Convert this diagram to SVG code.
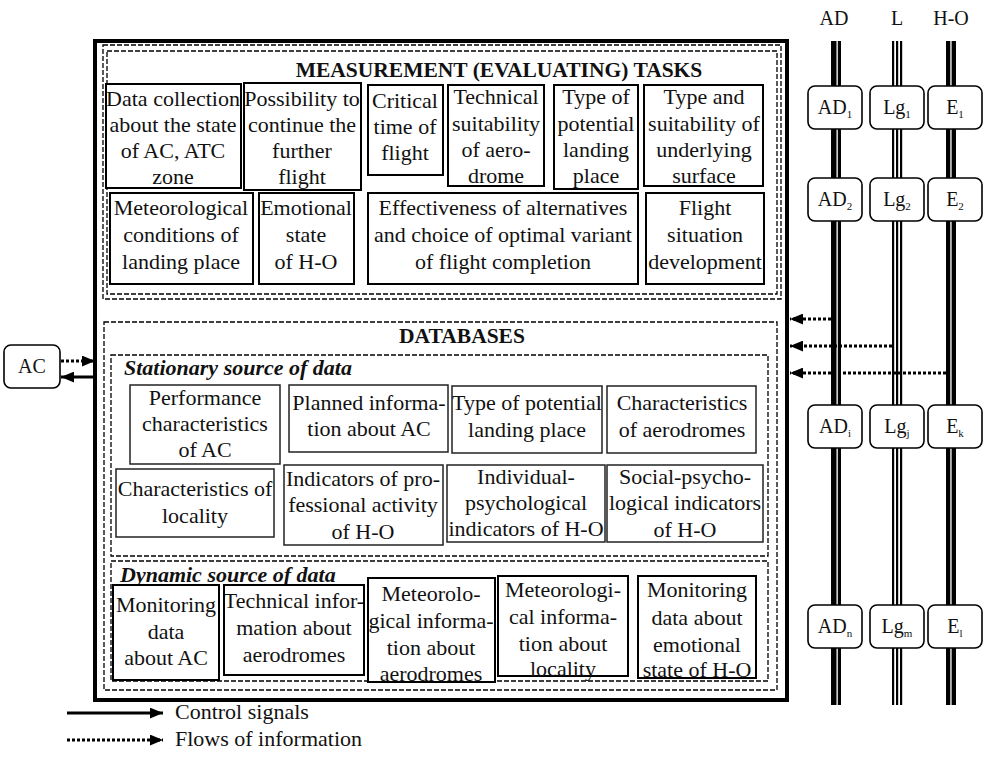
<svg xmlns="http://www.w3.org/2000/svg" width="988" height="757" viewBox="0 0 988 757">
<defs>
<style>
text{font-family:"Liberation Serif","Times New Roman",serif;fill:#111}
.t{font-size:22px;text-anchor:middle}
.h{font-size:21.5px;font-weight:bold;text-anchor:middle}
.bi{font-size:22px;font-weight:bold;font-style:italic}
.lab{font-size:20px;text-anchor:middle}
.sub{font-size:11px}
.box{fill:#fff;stroke:#000;stroke-width:2}
.sbox{fill:#fff;stroke:#222;stroke-width:1.5}
.dash{fill:none;stroke:#000;stroke-width:1.3;stroke-dasharray:5 2}
.bbox{fill:#fff;stroke:#000;stroke-width:1.6}
.solid{stroke:#000;stroke-width:3;fill:none}
.dot{stroke:#000;stroke-width:3;fill:none;stroke-dasharray:3 2}
</style>
<marker id="ah" viewBox="0 0 12 10" refX="12" refY="5" markerWidth="13" markerHeight="11" markerUnits="userSpaceOnUse" orient="auto">
<path d="M0,0 L12,5 L0,10 z" fill="#000" stroke="none"/>
</marker>
</defs>
<rect width="988" height="757" fill="#fff"/>

<!-- buses -->
<g id="buses">
<text class="lab" x="834" y="25">AD</text>
<text class="lab" x="897" y="25">L</text>
<text class="lab" x="951" y="25">H-O</text>
<rect x="831" y="41" width="10" height="664" fill="#000"/>
<rect x="836.5" y="41" width="1.3" height="664" fill="#fff"/>
<rect x="892" y="41" width="2.2" height="664" fill="#000"/>
<rect x="896" y="41" width="2.2" height="664" fill="#000"/>
<rect x="900" y="41" width="2.2" height="664" fill="#000"/>
<rect x="946" y="41" width="10" height="664" fill="#000"/>
<rect x="950.3" y="41" width="1.3" height="664" fill="#fff"/>
</g>

<g id="bus-nodes">
<g id="AD1"><rect class="bbox" x="808" y="86" width="54" height="43" rx="7"/><text class="lab" x="835" y="114">AD<tspan class="sub" dy="4">1</tspan></text></g>
<g id="Lg1"><rect class="bbox" x="870" y="86" width="54" height="43" rx="7"/><text class="lab" x="897" y="114">Lg<tspan class="sub" dy="4">1</tspan></text></g>
<g id="E1"><rect class="bbox" x="928" y="86" width="54" height="43" rx="7"/><text class="lab" x="955" y="114">E<tspan class="sub" dy="4">1</tspan></text></g>
<g id="AD2"><rect class="bbox" x="808" y="178" width="54" height="43" rx="7"/><text class="lab" x="835" y="206">AD<tspan class="sub" dy="4">2</tspan></text></g>
<g id="Lg2"><rect class="bbox" x="870" y="178" width="54" height="43" rx="7"/><text class="lab" x="897" y="206">Lg<tspan class="sub" dy="4">2</tspan></text></g>
<g id="E2"><rect class="bbox" x="928" y="178" width="54" height="43" rx="7"/><text class="lab" x="955" y="206">E<tspan class="sub" dy="4">2</tspan></text></g>
<g id="ADi"><rect class="bbox" x="808" y="405" width="54" height="43" rx="7"/><text class="lab" x="835" y="433">AD<tspan class="sub" dy="4">i</tspan></text></g>
<g id="Lgj"><rect class="bbox" x="870" y="405" width="54" height="43" rx="7"/><text class="lab" x="897" y="433">Lg<tspan class="sub" dy="4">j</tspan></text></g>
<g id="Ek"><rect class="bbox" x="928" y="405" width="54" height="43" rx="7"/><text class="lab" x="955" y="433">E<tspan class="sub" dy="4">k</tspan></text></g>
<g id="ADn"><rect class="bbox" x="808" y="605" width="54" height="43" rx="7"/><text class="lab" x="835" y="633">AD<tspan class="sub" dy="4">n</tspan></text></g>
<g id="Lgm"><rect class="bbox" x="870" y="605" width="54" height="43" rx="7"/><text class="lab" x="897" y="633">Lg<tspan class="sub" dy="4">m</tspan></text></g>
<g id="El"><rect class="bbox" x="928" y="605" width="54" height="43" rx="7"/><text class="lab" x="955" y="633">E<tspan class="sub" dy="4">l</tspan></text></g>
</g>

<!-- main system -->
<g id="system">
<rect x="95" y="41" width="692" height="659" fill="none" stroke="#000" stroke-width="4"/>
</g>

<g id="measurement">
<rect class="dash" x="103" y="45" width="678" height="254"/>
<rect class="dash" x="107" y="51" width="670" height="243"/>
<text class="h" x="499" y="77">MEASUREMENT (EVALUATING) TASKS</text>
</g>

<g id="m1"><rect class="box" x="106" y="84" width="135" height="104"/><text class="t"><tspan x="173" y="106">Data collection</tspan><tspan x="173" y="132">about the state</tspan><tspan x="173" y="158">of AC, ATC</tspan><tspan x="173" y="184">zone</tspan></text></g>
<g id="m2"><rect class="box" x="244" y="83" width="117" height="107"/><text class="t"><tspan x="302" y="106">Possibility to</tspan><tspan x="302" y="132">continue the</tspan><tspan x="302" y="158">further</tspan><tspan x="302" y="184">flight</tspan></text></g>
<g id="m3"><rect class="box" x="368" y="85" width="75" height="90"/><text class="t"><tspan x="405" y="108">Critical</tspan><tspan x="405" y="134">time of</tspan><tspan x="405" y="160">flight</tspan></text></g>
<g id="m4"><rect class="box" x="448" y="85" width="96" height="101"/><text class="t"><tspan x="496" y="104">Technical</tspan><tspan x="496" y="131">suitability</tspan><tspan x="496" y="157">of aero-</tspan><tspan x="496" y="183">drome</tspan></text></g>
<g id="m5"><rect class="box" x="554" y="85" width="84" height="104"/><text class="t"><tspan x="596" y="104">Type of</tspan><tspan x="596" y="131">potential</tspan><tspan x="596" y="157">landing</tspan><tspan x="596" y="183">place</tspan></text></g>
<g id="m6"><rect class="box" x="644" y="85" width="119" height="101"/><text class="t"><tspan x="704" y="104">Type and</tspan><tspan x="704" y="131">suitability of</tspan><tspan x="704" y="157">underlying</tspan><tspan x="704" y="183">surface</tspan></text></g>
<g id="m7"><rect class="box" x="110" y="193" width="143" height="91"/><text class="t"><tspan x="181" y="215">Meteorological</tspan><tspan x="181" y="242">conditions of</tspan><tspan x="181" y="269">landing place</tspan></text></g>
<g id="m8"><rect class="box" x="259" y="193" width="95" height="91"/><text class="t"><tspan x="306" y="215">Emotional</tspan><tspan x="306" y="242">state</tspan><tspan x="306" y="269">of H-O</tspan></text></g>
<g id="m9"><rect class="box" x="368" y="193" width="270" height="91"/><text class="t"><tspan x="503" y="215">Effectiveness of alternatives</tspan><tspan x="503" y="242">and choice of optimal variant</tspan><tspan x="503" y="269">of flight completion</tspan></text></g>
<g id="m10"><rect class="box" x="646" y="193" width="118" height="91"/><text class="t"><tspan x="705" y="215">Flight</tspan><tspan x="705" y="242">situation</tspan><tspan x="705" y="269">development</tspan></text></g>

<g id="databases">
<rect class="dash" x="104" y="322" width="673" height="368"/>
<text class="h" x="462" y="343">DATABASES</text>
</g>

<g id="stationary">
<rect class="dash" x="111" y="355" width="657" height="201"/>
<text class="bi" x="124" y="375">Stationary source of data</text>
</g>
<g id="s1"><rect class="sbox" x="130" y="385" width="150" height="79"/><text class="t"><tspan x="205" y="405">Performance</tspan><tspan x="205" y="431">characteristics</tspan><tspan x="205" y="457">of AC</tspan></text></g>
<g id="s2"><rect class="sbox" x="289" y="385" width="159" height="67"/><text class="t"><tspan x="369" y="410">Planned informa-</tspan><tspan x="369" y="436">tion about AC</tspan></text></g>
<g id="s3"><rect class="sbox" x="452" y="386" width="150" height="67"/><text class="t"><tspan x="527" y="410">Type of potential</tspan><tspan x="527" y="437">landing place</tspan></text></g>
<g id="s4"><rect class="sbox" x="607" y="386" width="149" height="67"/><text class="t"><tspan x="682" y="410">Characteristics</tspan><tspan x="682" y="437">of aerodromes</tspan></text></g>
<g id="s5"><rect class="sbox" x="116" y="469" width="158" height="68"/><text class="t"><tspan x="195" y="496">Characteristics of</tspan><tspan x="195" y="523">locality</tspan></text></g>
<g id="s6"><rect class="sbox" x="284" y="465" width="159" height="80"/><text class="t"><tspan x="363" y="486">Indicators of pro-</tspan><tspan x="363" y="512">fessional activity</tspan><tspan x="363" y="539">of H-O</tspan></text></g>
<g id="s7"><rect class="sbox" x="447" y="465" width="158" height="77"/><text class="t"><tspan x="526" y="484">Individual-</tspan><tspan x="526" y="510">psychological</tspan><tspan x="526" y="536">indicators of H-O</tspan></text></g>
<g id="s8"><rect class="sbox" x="607" y="465" width="156" height="77"/><text class="t"><tspan x="685" y="484">Social-psycho-</tspan><tspan x="685" y="510">logical indicators</tspan><tspan x="685" y="537">of H-O</tspan></text></g>

<g id="dynamic">
<rect class="dash" x="111" y="561" width="657" height="120"/>
<text class="bi" x="120" y="582">Dynamic source of data</text>
</g>
<g id="d1"><rect class="box" x="113" y="585" width="106" height="95"/><text class="t"><tspan x="166" y="612">Monitoring</tspan><tspan x="166" y="639">data</tspan><tspan x="166" y="665">about AC</tspan></text></g>
<g id="d2"><rect class="box" x="224" y="585" width="140" height="90"/><text class="t"><tspan x="294" y="608">Technical infor-</tspan><tspan x="294" y="635">mation about</tspan><tspan x="294" y="662">aerodromes</tspan></text></g>
<g id="d3"><rect class="box" x="368" y="578" width="127" height="104"/><text class="t"><tspan x="431" y="601">Meteorolo-</tspan><tspan x="431" y="628">gical informa-</tspan><tspan x="431" y="655">tion about</tspan><tspan x="431" y="681">aerodromes</tspan></text></g>
<g id="d4"><rect class="box" x="498" y="576" width="130" height="100"/><text class="t"><tspan x="563" y="597">Meteorologi-</tspan><tspan x="563" y="624">cal informa-</tspan><tspan x="563" y="651">tion about</tspan><tspan x="563" y="676">locality</tspan></text></g>
<g id="d5"><rect class="box" x="638" y="576" width="118" height="102"/><text class="t"><tspan x="697" y="597">Monitoring</tspan><tspan x="697" y="625">data about</tspan><tspan x="697" y="652">emotional</tspan><tspan x="697" y="677">state of H-O</tspan></text></g>

<g id="AC"><rect class="bbox" x="4" y="345" width="56" height="43" rx="7"/><text class="lab" x="32" y="373">AC</text></g>

<g id="connectors">
<line class="dot" x1="61" y1="361" x2="95" y2="361" marker-end="url(#ah)"/>
<line class="solid" x1="95" y1="377" x2="61" y2="377" marker-end="url(#ah)"/>
<line class="dot" x1="831" y1="319" x2="790" y2="319" marker-end="url(#ah)"/>
<line class="dot" x1="892" y1="346" x2="790" y2="346" marker-end="url(#ah)"/>
<line class="dot" x1="946" y1="373" x2="790" y2="373" marker-end="url(#ah)"/>
</g>

<g id="legend">
<line class="solid" x1="67" y1="713" x2="163" y2="713" marker-end="url(#ah)"/>
<text x="175" y="719" style="font-size:22px">Control signals</text>
<line class="dot" x1="67" y1="740" x2="163" y2="740" marker-end="url(#ah)"/>
<text x="175" y="746" style="font-size:22px">Flows of information</text>
</g>
</svg>
